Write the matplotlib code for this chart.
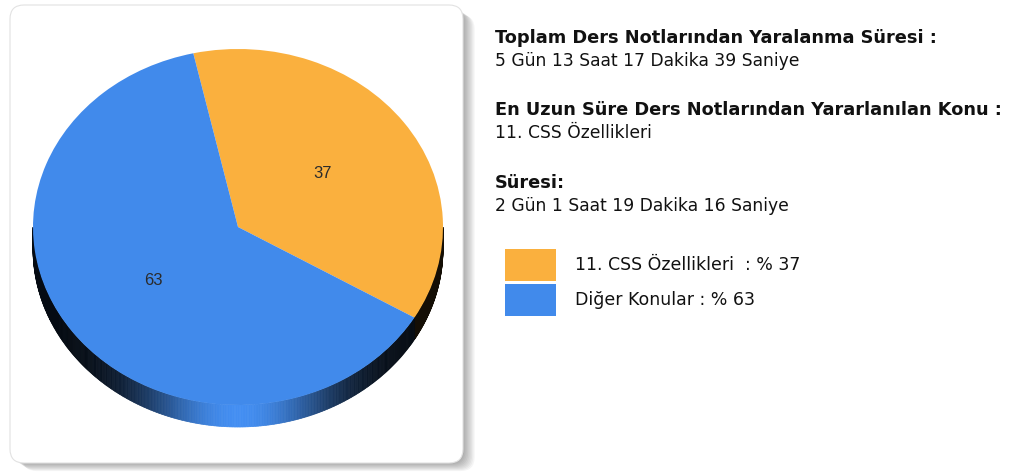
import numpy as np
import matplotlib.pyplot as plt
from matplotlib.patches import FancyBboxPatch, Rectangle, Polygon
from matplotlib.colors import to_rgb

# data
labels = ["11. CSS Özellikleri", "Diğer Konular"]
values = [37, 63]
colors = ["#FAB03E", "#418AEB"]
legend_texts = ["11. CSS Özellikleri  : % 37", "Diğer Konular : % 63"]

info_lines = [
    ("Toplam Ders Notlarından Yaralanma Süresi :", True),
    ("5 Gün 13 Saat 17 Dakika 39 Saniye", False),
    ("En Uzun Süre Ders Notlarından Yararlanılan Konu :", True),
    ("11. CSS Özellikleri", False),
    ("Süresi:", True),
    ("2 Gün 1 Saat 19 Dakika 16 Saniye", False),
]
info_y = [38, 61, 110, 133, 183, 206]

W, H = 1010, 475
fig = plt.figure(figsize=(W / 100, H / 100), dpi=100)
bg = fig.add_axes([0, 0, 1, 1])
bg.set_xlim(0, W)
bg.set_ylim(H, 0)
bg.axis("off")

# box with soft shadow
for i in range(10):
    sh = FancyBboxPatch((11 + i * 1.3, 7 + i * 0.9), 452, 456,
                        boxstyle="round,pad=0,rounding_size=14",
                        fc="#000000", ec="none", alpha=0.04)
    bg.add_patch(sh)
box = FancyBboxPatch((10, 5), 453, 458, boxstyle="round,pad=0,rounding_size=14",
                     fc="white", ec="#e2e2e2", lw=0.8)
bg.add_patch(box)

# pie axes: center (238,227) px, radii 205 x 178 px
cx, cy, rx, ry = 238, 227, 205, 178
ax = fig.add_axes([(cx - rx) / W, (H - cy - ry) / H, 2 * rx / W, 2 * ry / H])
start = 102.6
wedges, texts, autotexts = ax.pie(
    values, colors=colors, startangle=start, counterclock=False,
    autopct=lambda p: "%d" % round(p), pctdistance=0.51,
    wedgeprops=dict(linewidth=0.4, edgecolor="none"),
    textprops=dict(fontsize=12, color="#2b2b2b", family="Liberation Sans"))
ax.set_aspect("auto")
ax.set_xlim(-1, 1)
ax.set_ylim(-1, 1)
for w in wedges:
    w.set_zorder(3)
for t in autotexts:
    t.set_zorder(4)

# 3d side band
depth = 22 / ry
ang = start
for v, c in zip(values, colors):
    a0 = ang
    a1 = ang - v / sum(values) * 360
    ang = a1
    th = np.radians(np.linspace(a0, a1, 500))
    base = np.array(to_rgb(c))
    for t0, t1 in zip(th[:-1], th[1:]):
        s0, s1 = np.sin(t0), np.sin(t1)
        if s0 > 0 and s1 > 0:
            continue
        f = 0.08 + 0.95 * abs(np.sin((t0 + t1) / 2)) ** 9
        col = np.clip(base * f, 0, 1)
        pts = [(np.cos(t0), min(s0, 0)), (np.cos(t1), min(s1, 0)),
               (np.cos(t1), min(s1, 0) - depth), (np.cos(t0), min(s0, 0) - depth)]
        ax.add_patch(Polygon(pts, closed=True, fc=col, ec=col, lw=0.5,
                             clip_on=False, zorder=2))

# info text
for (txt, bold), y in zip(info_lines, info_y):
    bg.text(495, y, txt, fontsize=12.8 if bold else 12.3,
            fontweight="bold" if bold else "normal",
            color="#111111", va="center", ha="left", family="DejaVu Sans")

# legend
leg_y = [265, 300]
for c, txt, y in zip(colors, legend_texts, leg_y):
    bg.add_patch(Rectangle((505, y - 16), 51, 32, fc=c, ec="none"))
    bg.text(575, y, txt, fontsize=12.5, color="#111111", va="center", ha="left",
            family="DejaVu Sans")

fig.savefig("out.png", dpi=100)
